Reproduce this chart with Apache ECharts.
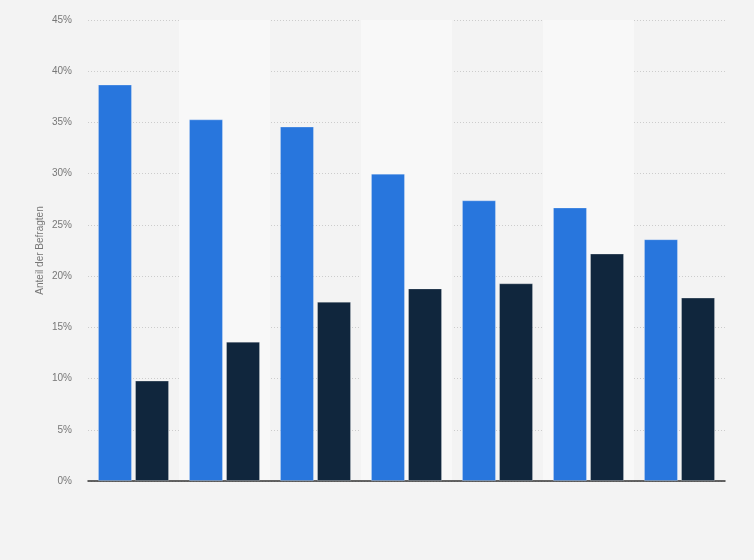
<!DOCTYPE html>
<html>
<head>
<meta charset="utf-8">
<script src="https://cdn.jsdelivr.net/npm/echarts@6/dist/echarts.min.js"></script>
<style>
html,body{margin:0;padding:0;background:#f3f3f3;}
#c{width:754px;height:560px;}
</style>
</head>
<body>
<div id="c"></div>
<script>
const categories = ['1','2','3','4','5','6','7'];
const seriesA = [38.7, 35.3, 34.6, 30.0, 27.4, 26.7, 23.6];
const seriesB = [9.8, 13.6, 17.5, 18.8, 19.3, 22.2, 17.9];
const yTicks = [0, 5, 10, 15, 20, 25, 30, 35, 40, 45];

const chart = echarts.init(document.getElementById('c'));
chart.setOption({
  backgroundColor: '#f3f3f3',
  animation: false,
  grid: {left: 88, right: 29, top: 20, bottom: 79},
  xAxis: {
    type: 'category',
    data: categories,
    axisLine: {lineStyle: {color: '#333', width: 1.5}},
    axisTick: {show: false},
    axisLabel: {show: false},
    splitArea: {show: true, areaStyle: {color: ['rgba(0,0,0,0)', '#f8f8f8']}}
  },
  yAxis: {
    type: 'value',
    min: yTicks[0],
    max: yTicks[yTicks.length - 1],
    interval: 5,
    name: 'Anteil der Befragten',
    nameLocation: 'middle',
    nameGap: 43,
    nameMoveOverlap: false,
    nameTextStyle: {color: '#777', fontSize: 10, fontFamily: 'Liberation Sans, Arial'},
    axisLine: {show: false},
    axisTick: {show: false},
    axisLabel: {color: '#777', fontSize: 10, fontFamily: 'Liberation Sans, Arial', formatter: v => v + '%', margin: 16},
    splitLine: {lineStyle: {color: '#cccccc', type: [1, 2]}}
  },
  series: [
    {
      type: 'bar', data: seriesA, barWidth: 34, barGap: '9%',
      itemStyle: {color: '#2876dd', borderColor: 'rgba(255,255,255,0.25)', borderWidth: 1}
    },
    {
      type: 'bar', data: seriesB, barWidth: 34,
      itemStyle: {color: '#10263d', borderColor: 'rgba(255,255,255,0.25)', borderWidth: 1}
    }
  ]
});
</script>
</body>
</html>
